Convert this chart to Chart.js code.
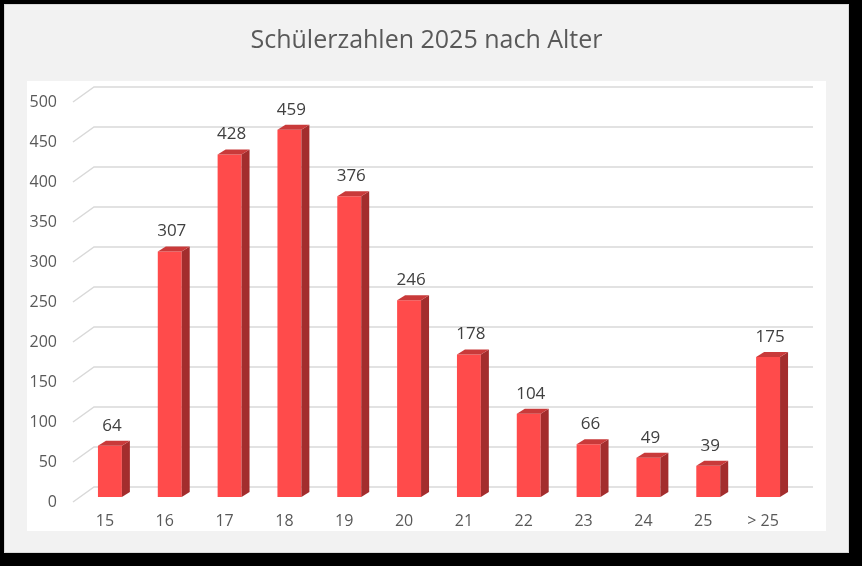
<!DOCTYPE html>
<html lang="de">
<head>
<meta charset="utf-8">
<title>Schülerzahlen 2025 nach Alter</title>
<script src="https://cdn.jsdelivr.net/npm/chart.js@4.4.1/dist/chart.umd.min.js"></script>
<style>
  html, body { margin: 0; padding: 0; background: #000; }
  body { width: 862px; height: 566px; position: relative; overflow: hidden; }
  .panel {
    position: absolute; left: 4px; top: 4px; width: 843px; height: 547px;
    background: #f2f2f2; border: 1px solid #d9d9d9;
  }
  .plot {
    position: absolute; left: 27px; top: 81px; width: 799px; height: 450px;
    background: #fff;
  }
  #chart { position: absolute; left: 4px; top: 4px; }
</style>
</head>
<body>
<div class="panel"></div>
<div class="plot"></div>
<canvas id="chart" width="845" height="549"></canvas>
<script>
(function () {
  "use strict";

  /* ── Data ─────────────────────────────────── */

  var AGES = ["15", "16", "17", "18", "19", "20", "21", "22", "23", "24", "25", "> 25"];
  var COUNTS = [64, 307, 428, 459, 376, 246, 178, 104, 66, 49, 39, 175];
  var Y_MIN = 0;
  var Y_MAX = 500;
  var Y_STEP = 50;

  var TITLE = "Schülerzahlen 2025 nach Alter";

  /* ── Style ────────────────────────────────── */

  var FONT = "'Open Sans', 'Noto Sans', sans-serif";
  var FRONT = "#ff4b4b";
  var TOP = "#c93a3a";
  var SIDE = "#a32d2d";
  var GRID = "#d9d9d9";
  var DEPTH_X = 8;
  var DEPTH_Y = 5;

  /* ── Plugin: 3D floor grid (behind bars) ──── */

  var floorGrid = {
    id: "floorGrid",
    beforeDatasetsDraw: function (chart) {
      var ctx = chart.ctx;
      var y = chart.scales.y;
      var area = chart.chartArea;
      ctx.save();
      ctx.strokeStyle = GRID;
      ctx.lineWidth = 1.5;
      y.ticks.forEach(function (t) {
        var py = y.getPixelForValue(t.value);
        ctx.beginPath();
        ctx.moveTo(area.left - 7, py + 5);
        ctx.lineTo(area.left + 14, py - 10);
        ctx.lineTo(area.right + 15, py - 10);
        ctx.stroke();
      });
      ctx.restore();
    }
  };

  /* ── Plugin: bar depth + value labels ──────── */

  var barDepth = {
    id: "barDepth",
    afterDatasetsDraw: function (chart) {
      var ctx = chart.ctx;
      var meta = chart.getDatasetMeta(0);
      ctx.save();
      meta.data.forEach(function (bar, i) {
        var half = bar.width / 2;
        var l = bar.x - half, r = bar.x + half;
        // side face
        ctx.fillStyle = SIDE;
        ctx.beginPath();
        ctx.moveTo(r, bar.y);
        ctx.lineTo(r + DEPTH_X, bar.y - DEPTH_Y);
        ctx.lineTo(r + DEPTH_X, bar.base - DEPTH_Y);
        ctx.lineTo(r, bar.base);
        ctx.closePath();
        ctx.fill();
        // top face
        ctx.fillStyle = TOP;
        ctx.beginPath();
        ctx.moveTo(l, bar.y);
        ctx.lineTo(l + DEPTH_X, bar.y - DEPTH_Y);
        ctx.lineTo(r + DEPTH_X, bar.y - DEPTH_Y);
        ctx.lineTo(r, bar.y);
        ctx.closePath();
        ctx.fill();
        // value label
        ctx.fillStyle = "#404040";
        ctx.font = "17px " + FONT;
        ctx.textAlign = "center";
        ctx.textBaseline = "middle";
        ctx.fillText(String(COUNTS[i]), bar.x + 2, bar.y - 20);
      });
      ctx.restore();
    }
  };

  /* ── Chart ────────────────────────────────── */

  function init() {
    new Chart(document.getElementById("chart"), {
      type: "bar",
      data: {
        labels: AGES,
        datasets: [{
          data: COUNTS,
          backgroundColor: FRONT,
          borderWidth: 0,
          categoryPercentage: 1,
          barPercentage: 0.4
        }]
      },
      options: {
        responsive: false,
        animation: false,
        layout: { padding: 0 },
        scales: {
          x: {
            grid: { display: false, drawTicks: false },
            border: { display: false },
            ticks: {
              color: "#595959",
              font: { size: 16, family: FONT },
              padding: 15,
              labelOffset: -5,
              maxRotation: 0
            },
            afterFit: function (s) { s.height = 56; }
          },
          y: {
            min: Y_MIN,
            max: Y_MAX,
            grid: { display: false, drawTicks: false },
            border: { display: false },
            ticks: {
              stepSize: Y_STEP,
              color: "#595959",
              font: { size: 16, family: FONT },
              padding: 23,
              labelOffset: 5
            },
            afterFit: function (s) { s.width = 76; }
          },
          // empty right axis: reserves the space right of the bars
          yRight: {
            position: "right",
            min: Y_MIN,
            max: Y_MAX,
            grid: { display: false, drawTicks: false },
            border: { display: false },
            ticks: { display: false },
            afterFit: function (s) { s.width = 51; }
          }
        },
        plugins: {
          legend: { display: false },
          tooltip: { enabled: false },
          title: {
            display: true,
            text: TITLE,
            color: "#595959",
            font: { size: 25, family: FONT, weight: "normal" },
            padding: { top: 22, bottom: 41 }
          }
        }
      },
      plugins: [floorGrid, barDepth]
    });
  }

  if (document.readyState === "loading") {
    document.addEventListener("DOMContentLoaded", init);
  } else {
    init();
  }
})();
</script>
</body>
</html>
